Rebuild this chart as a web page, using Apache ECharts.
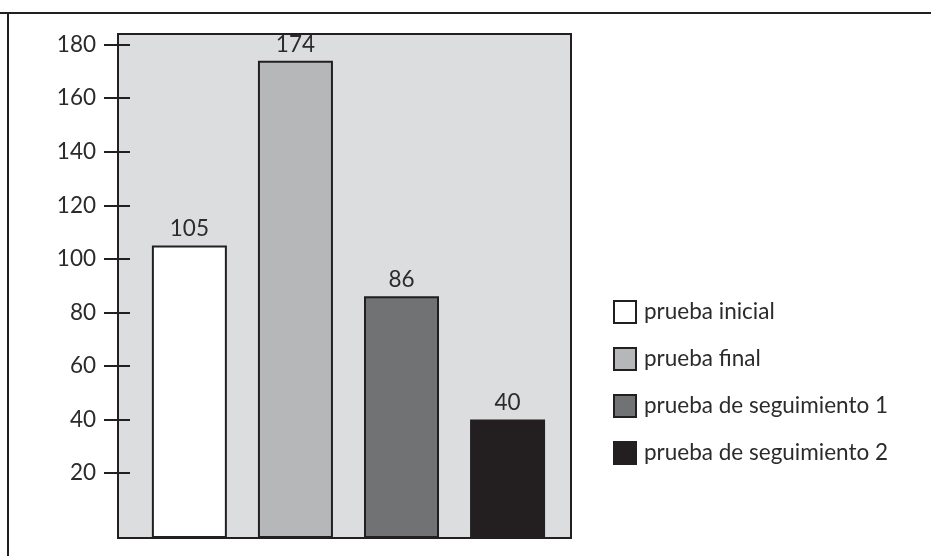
<!DOCTYPE html>
<html>
<head>
<meta charset="utf-8">
<script src="https://cdn.jsdelivr.net/npm/echarts@6/dist/echarts.min.js"></script>
<style>
html,body{margin:0;padding:0;background:#fff;}
#chart{width:931px;height:556px;}
</style>
</head>
<body>
<div id="chart"></div>
<script>
// Data
const categories = ['prueba inicial', 'prueba final', 'prueba de seguimiento 1', 'prueba de seguimiento 2'];
const values = [105, 174, 86, 40];
const barColors = ['#ffffff', '#b6b7b9', '#717274', '#231f20'];
const yTicks = [20, 40, 60, 80, 100, 120, 140, 160, 180];

const chart = echarts.init(document.getElementById('chart'), null, {renderer: 'canvas'});
const FONT = 'Lato';
const INK = '#231f20';
const TXT = '#2b2b2b';

const series = categories.map((name, i) => ({
  name: name,
  type: 'bar',
  barWidth: 75,
  barGap: '-100%',
  data: [[i, values[i]]],
  itemStyle: { color: barColors[i], borderColor: INK, borderWidth: 2 },
  label: {
    show: true, position: 'top', distance: 5,
    fontFamily: FONT, fontSize: 22.5, color: TXT
  },
  emphasis: { disabled: true },
  animation: false
}));

chart.setOption({
  animation: false,
  backgroundColor: '#ffffff',
  grid: {
    left: 118, top: 34, width: 453, height: 504,
    show: true, backgroundColor: '#dcdddf', borderColor: INK, borderWidth: 2,
    containLabel: false
  },
  xAxis: {
    type: 'value', min: -0.673, max: 3.598,
    show: false, splitLine: { show: false },
    axisLine: { onZero: false }
  },
  yAxis: [
    {
      type: 'value', min: -4.3, max: 184, startValue: -4.3,
      position: 'left', offset: 0,
      axisLine: { show: false, onZero: false },
      splitLine: { show: false },
      axisTick: { show: true, length: 14, inside: false, customValues: yTicks,
        lineStyle: { color: INK, width: 2 } },
      axisLabel: { show: true, customValues: yTicks, margin: 22,
        fontFamily: FONT, fontSize: 22.5, color: TXT }
    },
    {
      type: 'value', min: -4.3, max: 184,
      position: 'left', offset: 0,
      axisLine: { show: false, onZero: false },
      splitLine: { show: false },
      axisTick: { show: true, length: 12, inside: true, customValues: yTicks,
        lineStyle: { color: INK, width: 2 } },
      axisLabel: { show: false }
    }
  ],
  legend: {
    data: categories,
    orient: 'vertical',
    left: 608, top: 295,
    itemWidth: 22, itemHeight: 22, itemGap: 23,
    icon: 'rect',
    selectedMode: false,
    textStyle: { fontFamily: FONT, fontSize: 22.5, color: TXT, padding: [0, 0, 0, 3] }
  },
  graphic: [
    { type: 'line', shape: { x1: 0, y1: 13, x2: 931, y2: 13 }, style: { stroke: INK, lineWidth: 2 }, silent: true },
    { type: 'line', shape: { x1: 8, y1: 13, x2: 8, y2: 556 }, style: { stroke: INK, lineWidth: 2 }, silent: true }
  ],
  series: series
});
</script>
</body>
</html>
